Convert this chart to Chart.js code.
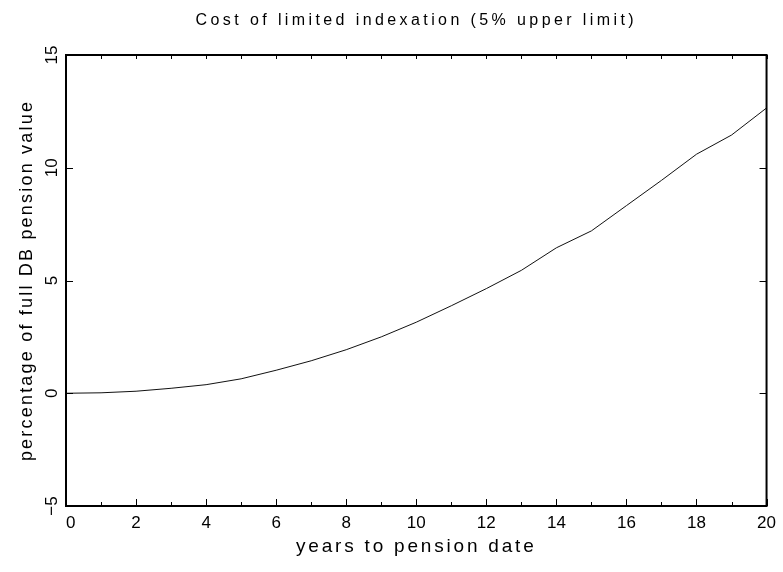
<!DOCTYPE html>
<html>
<head>
<meta charset="utf-8">
<script src="https://cdn.jsdelivr.net/npm/chart.js@4/dist/chart.umd.min.js"></script>
<style>
  html, body { margin: 0; padding: 0; background: #fff; }
  #wrap { width: 783px; height: 572px; }
</style>
</head>
<body>
<div id="wrap"><canvas id="c" width="783" height="572"></canvas></div>
<script>
// ---- data ----
const titleText = 'Cost of limited indexation (5% upper limit)';
const xTitle = 'years to pension date';
const yTitle = 'percentage of full DB pension value';
const years = [0, 1, 2, 3, 4, 5, 6, 7, 8, 9, 10, 11, 12, 13, 14, 15, 16, 17, 18, 19, 20];
const cost = [0.0, 0.02, 0.09, 0.22, 0.38, 0.64, 1.02, 1.44, 1.93, 2.5, 3.15, 3.88, 4.64, 5.45, 6.45, 7.2, 8.32, 9.44, 10.6, 11.45, 12.65];
const xMin = 0, xMax = 20, xStep = 1, xLabelEvery = 2;
const yMin = -5, yMax = 15, yStep = 5;

// letter spacing per font size (to mimic the wide stroke font)
const spacingBySize = { 16: '3.4px', 18: '2.2px', 19: '2.8px' };
const proto = CanvasRenderingContext2D.prototype;
const origFill = proto.fillText;
proto.fillText = function (text, x, y, maxWidth) {
  const m = /(\d+(?:\.\d+)?)px/.exec(this.font);
  const s = m ? spacingBySize[Math.round(+m[1])] : null;
  const prev = this.letterSpacing;
  if ('letterSpacing' in this) this.letterSpacing = s || '0px';
  const r = (maxWidth === undefined) ? origFill.call(this, text, x, y) : origFill.call(this, text, x, y, maxWidth);
  if ('letterSpacing' in this) this.letterSpacing = prev;
  return r;
};

const FONT = "'Liberation Sans', Arial, sans-serif";

const framePlugin = {
  id: 'frame',
  beforeDraw(chart) {
    chart.scales.y.getLabelItems().forEach(it => { it.options.textAlign = 'center'; });
    const xItems = chart.scales.x.getLabelItems();
    if (xItems.length && !xItems[0]._shifted) {
      // first x label sits just inside the left frame, as in the source plot
      xItems[0].options.textAlign = 'left';
      xItems[0]._shifted = true;
    }
  },
  afterDraw(chart) {
    const { ctx, chartArea: a, scales: { x, y } } = chart;
    ctx.save();
    ctx.strokeStyle = '#000';
    ctx.lineWidth = 1;
    ctx.beginPath();
    x.ticks.forEach(t => {
      const px = Math.round(x.getPixelForValue(t.value)) + 0.5;
      const major = t.value % xLabelEvery === 0;
      ctx.moveTo(px, a.bottom);
      ctx.lineTo(px, a.bottom - (major ? 7 : 4));
      ctx.moveTo(px, a.top);
      ctx.lineTo(px, a.top + 4);
    });
    y.ticks.forEach(t => {
      const py = Math.round(y.getPixelForValue(t.value)) + 0.5;
      ctx.moveTo(a.left, py);
      ctx.lineTo(a.left + 7, py);
      ctx.moveTo(a.right, py);
      ctx.lineTo(a.right - 7, py);
    });
    ctx.stroke();
    ctx.lineWidth = 2;
    ctx.strokeRect(a.left, a.top, a.right - a.left, a.bottom - a.top);
    ctx.restore();
  }
};

new Chart(document.getElementById('c'), {
  type: 'line',
  data: {
    datasets: [{
      data: years.map((v, i) => ({ x: v, y: cost[i] })),
      borderColor: '#111',
      borderWidth: 1,
      pointRadius: 0,
      tension: 0,
      fill: false
    }]
  },
  options: {
    responsive: false,
    animation: false,
    devicePixelRatio: 1,
    layout: { padding: { left: 0, right: 13, top: 0, bottom: 0 } },
    plugins: {
      legend: { display: false },
      tooltip: { enabled: false },
      title: {
        display: true,
        text: titleText,
        fullSize: false,
        color: '#000',
        font: { family: FONT, size: 16, weight: 'normal' },
        padding: { top: 11, bottom: 24.8 }
      }
    },
    scales: {
      x: {
        type: 'linear',
        min: xMin, max: xMax,
        grid: { display: false, drawTicks: false },
        border: { display: false },
        ticks: {
          stepSize: xStep,
          autoSkip: false,
          maxRotation: 0,
          padding: 7,
          color: '#000',
          font: { family: FONT, size: 17 },
          callback: v => (v % xLabelEvery === 0 ? String(v) : '')
        },
        title: {
          display: true,
          text: xTitle,
          color: '#000',
          font: { family: FONT, size: 19 },
          padding: { top: 0, bottom: 13.5 }
        },
        afterFit(s) { s.height = 66; }
      },
      y: {
        type: 'linear',
        min: yMin, max: yMax,
        grid: { display: false, drawTicks: false },
        border: { display: false },
        ticks: {
          stepSize: yStep,
          minRotation: 90,
          maxRotation: 90,
          padding: 14,
          color: '#000',
          font: { family: FONT, size: 17 },
          callback: v => (v < 0 ? '\u2212' + Math.abs(v) : String(v))
        },
        title: {
          display: true,
          text: yTitle,
          color: '#000',
          font: { family: FONT, size: 18 },
          padding: { top: 16, bottom: 0 }
        },
        afterFit(s) { s.width = 66; }
      }
    }
  },
  plugins: [framePlugin]
});
</script>
</body>
</html>
